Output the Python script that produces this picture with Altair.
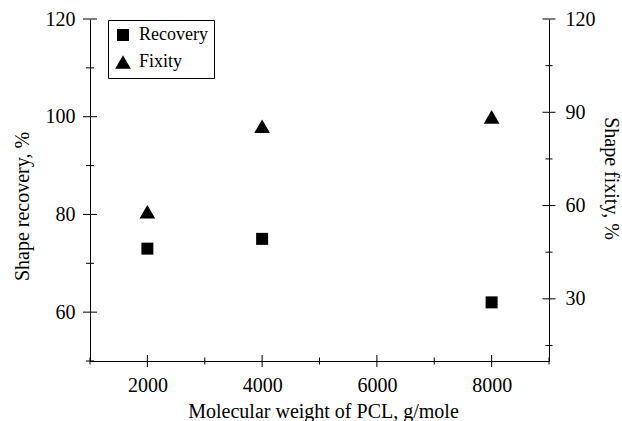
import altair as alt
import pandas as pd

# ---- data ----
mw = [2000, 4000, 8000]
recovery = [73, 75, 62]
fixity = [58, 85.5, 88.5]
series_names = ["Recovery", "Fixity"]

x_major = [2000, 4000, 6000, 8000]
x_minor = [1000, 3000, 5000, 7000, 9000]
left_major = [60, 80, 100, 120]
left_minor = [50, 70, 90, 110]
right_major = [30, 60, 90, 120]
right_minor = [15, 45, 75, 105]

FONT = "Liberation Serif"

rec_df = pd.DataFrame({"mw": mw, "value": recovery, "series": series_names[0]})
fix_df = pd.DataFrame({"mw": mw, "value": fixity, "series": series_names[1]})

xscale = alt.Scale(domain=[1000, 9000], nice=False, zero=False)
yl = alt.Scale(domain=[50, 120], nice=False, zero=False)
yr = alt.Scale(domain=[10, 120], nice=False, zero=False)
shape_scale = alt.Scale(domain=series_names, range=["square", "triangle-up"])
size_scale = alt.Scale(domain=series_names, range=[144, 250])

legend = alt.Legend(
    title=None, orient="none", legendX=18, legendY=1,
    strokeColor="black", fillColor="white", padding=6, rowPadding=8,
    labelFont=FONT, labelFontSize=18, labelColor="black", labelOffset=7,
    cornerRadius=0,
)

x_axis = alt.Axis(values=x_major, format="d", ticks=False, labelPadding=14,
                  title="Molecular weight of PCL, g/mole", titlePadding=6, titleX=233)
yl_axis = alt.Axis(orient="left", values=left_major, format="d", ticks=False, labelPadding=15,
                   title="Shape recovery, %", titlePadding=13, titleY=187)
yr_axis = alt.Axis(orient="right", values=right_major, format="d", ticks=False, labelPadding=16,
                   title="Shape fixity, %", titlePadding=5, titleY=159)

def points(df, yscale, yaxis):
    return alt.Chart(df).mark_point(filled=True, color="black", opacity=1).encode(
        x=alt.X("mw:Q", scale=xscale, axis=x_axis),
        y=alt.Y("value:Q", scale=yscale, axis=yaxis),
        shape=alt.Shape("series:N", scale=shape_scale, legend=legend),
        size=alt.Size("series:N", scale=size_scale, legend=legend),
    )

def yticks(vals, xpos, size, yscale, yaxis):
    return alt.Chart(pd.DataFrame({"v": vals})).mark_tick(
        orient="horizontal", size=size, thickness=1, color="black", opacity=1
    ).encode(
        x=alt.XDatum(xpos, scale=xscale, axis=x_axis),
        y=alt.Y("v:Q", scale=yscale, axis=yaxis),
    )

def xticks(vals, ypos, size, yscale, yaxis):
    return alt.Chart(pd.DataFrame({"v": vals})).mark_tick(
        orient="vertical", size=size, thickness=1, color="black", opacity=1
    ).encode(
        x=alt.X("v:Q", scale=xscale, axis=x_axis),
        y=alt.YDatum(ypos, scale=yscale, axis=yaxis),
    )

left = alt.layer(
    points(rec_df, yl, yl_axis),
    yticks(left_major, 1000, 14, yl, yl_axis),
    yticks(left_minor, 1000, 8, yl, yl_axis),
    xticks(x_major, 50, 12, yl, yl_axis),
    xticks(x_minor, 50, 7, yl, yl_axis),
)
right = alt.layer(
    points(fix_df, yr, yr_axis),
    yticks(right_major, 9000, 13, yr, yr_axis),
    yticks(right_minor, 9000, 7, yr, yr_axis),
)

chart = alt.layer(left, right).resolve_scale(y="independent").properties(
    width=459, height=342,
    padding={"left": 90, "top": 19, "right": 73, "bottom": 60},
    autosize=alt.AutoSizeParams(type="none"),
).configure_view(stroke=None).configure_axis(
    labelFont=FONT, labelFontSize=20, labelColor="black",
    titleFont=FONT, titleFontSize=20, titleFontWeight="normal", titleColor="black",
    domainColor="black", domainWidth=1, grid=False,
)

chart.save("out.html", embed_options={"renderer": "svg", "actions": False})
